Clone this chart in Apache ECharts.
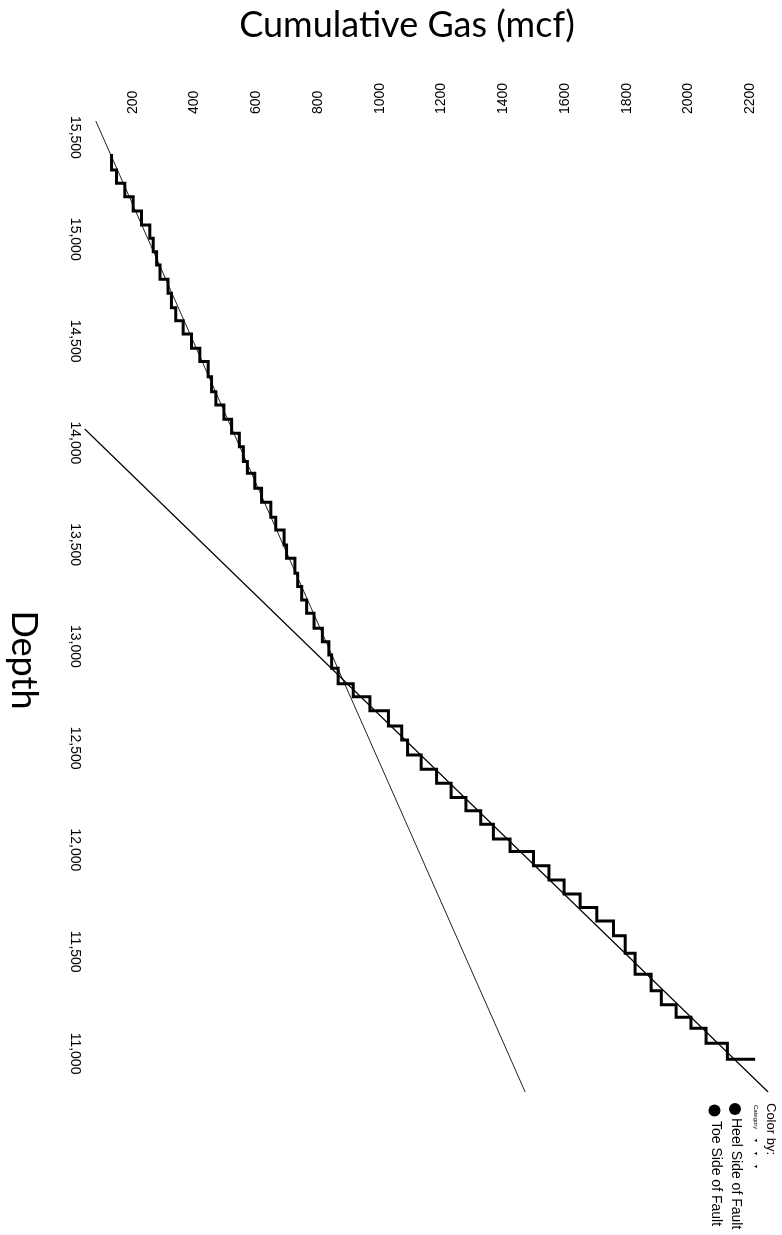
<!DOCTYPE html>
<html>
<head>
<meta charset="utf-8">
<script src="https://cdn.jsdelivr.net/npm/echarts@6/dist/echarts.min.js"></script>
<style>
  html, body { margin: 0; padding: 0; background: #fff; }
  #chart { width: 782px; height: 1235px; }
</style>
</head>
<body>
<div id="chart"></div>
<script>
// Stage boundaries along the lateral, toe (deep) to heel (shallow): measured depth, ft
const stageDepth = [15419, 15340, 15275, 15209, 15139, 15070, 15005, 14939, 14874, 14803,
  14735, 14663, 14600, 14535, 14465, 14399, 14325, 14251, 14186, 14116,
  14047, 13981, 13908, 13851, 13777, 13708, 13634, 13572, 13498, 13433,
  13359, 13294, 13228, 13163, 13089, 13023, 12958, 12893, 12816, 12753,
  12684, 12609, 12540, 12467, 12397, 12328, 12258, 12193, 12126, 12054,
  11992, 11922, 11853, 11784, 11717, 11651, 11579, 11493, 11390, 11308,
  11239, 11178, 11124, 11051, 10972];

// Cumulative gas at each boundary, mcf
const cumGas = [131, 147, 174, 201, 228, 255, 266, 277, 288, 314,
  325, 339, 363, 390, 417, 444, 455, 469, 495, 520,
  545, 558, 571, 595, 617, 647, 663, 690, 698, 725,
  734, 747, 763, 787, 814, 835, 844, 865, 914, 968,
  1028, 1071, 1090, 1134, 1184, 1231, 1279, 1327, 1368, 1422,
  1498, 1548, 1597, 1649, 1703, 1757, 1795, 1827, 1879, 1912,
  1960, 2008, 2057, 2126, 2216];

// Straight-line trends for each side of the fault: [depth, gas] end points
const toeTrendDepth = [15581, 10811];
const toeTrendGas = [80, 1471];
const heelTrendDepth = [14068, 10811];
const heelTrendGas = [44, 2258];

// Axis ranges and tick labels
const gasRange = [45, 2290];
const depthRange = [10811, 15581];
const gasTicks = [200, 400, 600, 800, 1000, 1200, 1400, 1600, 1800, 2000, 2200];
const depthTicks = [11000, 11500, 12000, 12500, 13000, 13500, 14000, 14500, 15000, 15500];

// Text
const gasTitle = 'Cumulative Gas (mcf)';
const depthTitle = 'Depth';
const legendTitle = 'Color by:';
const legendSub = 'Category';
const legendItems = ['Heel Side of Fault', 'Toe Side of Fault'];

const withComma = v => String(v).replace(/\B(?=(\d{3})+(?!\d))/g, ',');
const toPairs = (gas, depth) => gas.map((g, i) => [g, depth[i]]);

const chart = echarts.init(document.getElementById('chart'), null, { renderer: 'canvas' });

const sansFont = '"Liberation Sans", Arial, sans-serif';
const tickFont = { fontFamily: sansFont, fontSize: 14, color: '#000' };
const CW = -Math.PI / 2; // rotate text clockwise, reading top to bottom

chart.setOption({
  animation: false,
  backgroundColor: '#fff',
  grid: { left: 85, right: 4, top: 121, bottom: 143, containLabel: false },
  xAxis: {
    type: 'value',
    position: 'top',
    min: gasRange[0],
    max: gasRange[1],
    axisLine: { show: false },
    axisTick: { show: false },
    splitLine: { show: false },
    axisLabel: Object.assign({
      customValues: gasTicks,
      rotate: -90,
      margin: 7,
      formatter: v => String(v)
    }, tickFont)
  },
  yAxis: {
    type: 'value',
    min: depthRange[0],
    max: depthRange[1],
    axisLine: { show: false },
    axisTick: { show: false },
    splitLine: { show: false },
    axisLabel: Object.assign({
      customValues: depthTicks,
      rotate: -90,
      margin: 3,
      formatter: v => withComma(v)
    }, tickFont)
  },
  series: [
    {
      name: legendItems[1] + ' trend',
      type: 'line',
      data: toPairs(toeTrendGas, toeTrendDepth),
      symbol: 'none',
      silent: true,
      lineStyle: { color: '#222', width: 1 },
      z: 2
    },
    {
      name: legendItems[0] + ' trend',
      type: 'line',
      data: toPairs(heelTrendGas, heelTrendDepth),
      symbol: 'none',
      silent: true,
      lineStyle: { color: '#000', width: 1.2 },
      z: 2
    },
    {
      name: 'Cumulative Gas',
      type: 'line',
      step: 'start',
      data: toPairs(cumGas, stageDepth),
      symbol: 'none',
      silent: true,
      lineStyle: { color: '#000', width: 3, join: 'miter', cap: 'butt' },
      z: 3
    }
  ],
  graphic: [
    {
      type: 'text', x: 407, y: 25,
      style: { text: gasTitle, fontFamily: 'Lato, sans-serif', fontSize: 36, fill: '#000',
               align: 'center', verticalAlign: 'middle' }
    },
    {
      type: 'text', x: 24, y: 660, rotation: CW,
      style: { text: depthTitle, fontFamily: 'Lato, sans-serif', fontSize: 36, fill: '#000',
               align: 'center', verticalAlign: 'middle' }
    },
    {
      type: 'text', x: 771, y: 1103, rotation: CW,
      style: { text: legendTitle, fontFamily: sansFont, fontSize: 13,
               fill: '#000', align: 'left', verticalAlign: 'middle' }
    },
    {
      type: 'text', x: 756, y: 1105, rotation: CW,
      style: { text: legendSub + '      \u25BE      \u25BE      \u25BE', fontFamily: sansFont, fontSize: 6,
               fill: '#000', align: 'left', verticalAlign: 'middle' }
    },
    { type: 'circle', shape: { cx: 735, cy: 1109, r: 6 }, style: { fill: '#000' } },
    {
      type: 'text', x: 735.5, y: 1118, rotation: CW,
      style: { text: legendItems[0], fontFamily: sansFont, fontSize: 14,
               fill: '#000', align: 'left', verticalAlign: 'middle' }
    },
    { type: 'circle', shape: { cx: 714.5, cy: 1110.5, r: 6 }, style: { fill: '#000' } },
    {
      type: 'text', x: 715.5, y: 1121, rotation: CW,
      style: { text: legendItems[1], fontFamily: sansFont, fontSize: 14,
               fill: '#000', align: 'left', verticalAlign: 'middle' }
    }
  ]
});
</script>
</body>
</html>
